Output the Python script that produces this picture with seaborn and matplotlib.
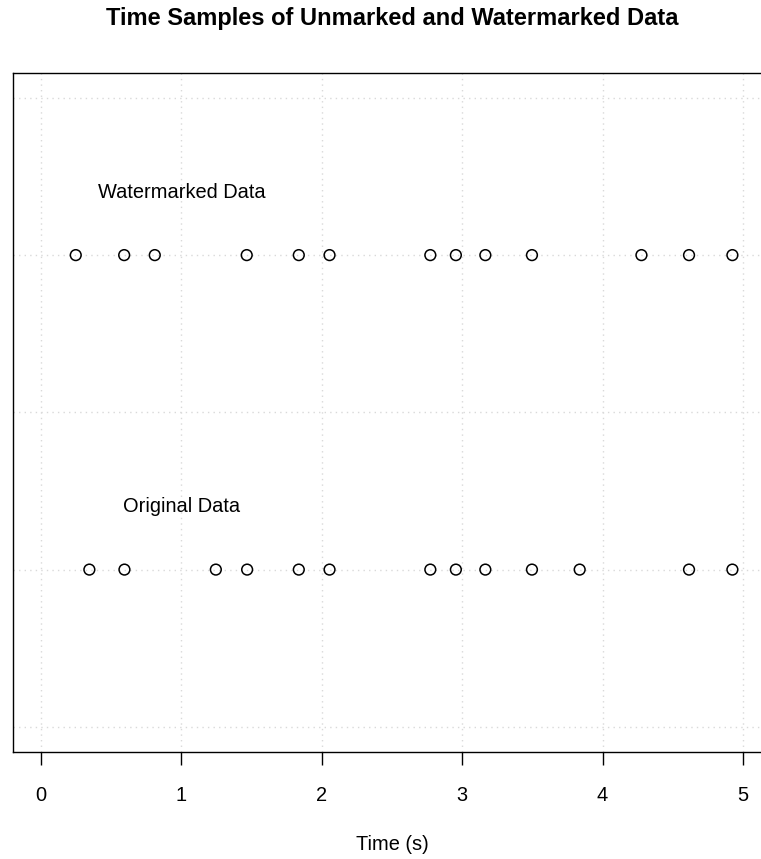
import matplotlib
matplotlib.use("Agg")
import matplotlib.pyplot as plt
import seaborn as sns
import pandas as pd

# ---- data ----
watermarked_times = [0.247, 0.592, 0.810, 1.465, 1.836, 2.055, 2.773, 2.955, 3.165, 3.497, 4.277, 4.616, 4.925]
original_times = [0.344, 0.594, 1.245, 1.468, 1.836, 2.055, 2.773, 2.955, 3.165, 3.497, 3.837, 4.616, 4.925]
series_names = ["Watermarked Data", "Original Data"]
series_levels = [1.5, 0.5]
label_levels = [1.7, 0.7]
label_x = [1.0, 1.0]
x_ticks = [0, 1, 2, 3, 4, 5]
y_grid = [0, 0.5, 1.0, 1.5, 2.0]
title = "Time Samples of Unmarked and Watermarked Data"
xlabel = "Time (s)"

sns.set_style("white")
plt.rcParams['font.family'] = ['Liberation Sans', 'DejaVu Sans']
plt.rcParams['text.color'] = 'black'

df = pd.concat([
    pd.DataFrame({"time": watermarked_times, "level": series_levels[0], "series": series_names[0]}),
    pd.DataFrame({"time": original_times, "level": series_levels[1], "series": series_names[1]}),
], ignore_index=True)

W, H = 761, 859
fig = plt.figure(figsize=(W / 100, H / 100), dpi=100)
ax = fig.add_axes([13 / W, 107 / H, 758 / W, (752 - 72.7) / H])

ax.set_xlim(-0.2, 5.2)
ax.set_ylim(-0.08, 2.08)
ax.set_xticks(x_ticks)
ax.set_yticks(y_grid)
ax.grid(True, color="#D9D9D9", linestyle=(0, (1, 3)), linewidth=1.0)
ax.set_axisbelow(True)

sns.scatterplot(data=df, x="time", y="level", ax=ax, marker="o", s=60,
                color="black", linewidth=1.1, legend=False, zorder=3)
for coll in ax.collections:
    coll.set_facecolor("none")
    coll.set_edgecolor("black")
    coll.set_linewidth(1.1)

for name, lx, ly in zip(series_names, label_x, label_levels):
    ax.text(lx, ly, name, ha="center", va="center", fontsize=14.4, color="black")

ax.set_xlabel("")
ax.set_ylabel("")
ax.tick_params(axis="y", length=0, labelleft=False)
ax.tick_params(axis="x", direction="out", length=9.4, width=1.0, pad=15,
               labelsize=14.4, colors="black", labelcolor="black", bottom=True)
ax.set_xticklabels([str(t) for t in x_ticks])
for side in ["left", "top", "bottom"]:
    ax.spines[side].set_color("black")
    ax.spines[side].set_linewidth(1.0)
ax.spines["right"].set_visible(False)

fig.text(392 / W, 1 - 19 / H, title, ha="center", va="center",
         fontsize=17, fontweight="bold", color="black")
fig.text(392 / W, 1 - 845 / H, xlabel, ha="center", va="center",
         fontsize=14.4, color="black")

fig.savefig("out.png", dpi=100)
